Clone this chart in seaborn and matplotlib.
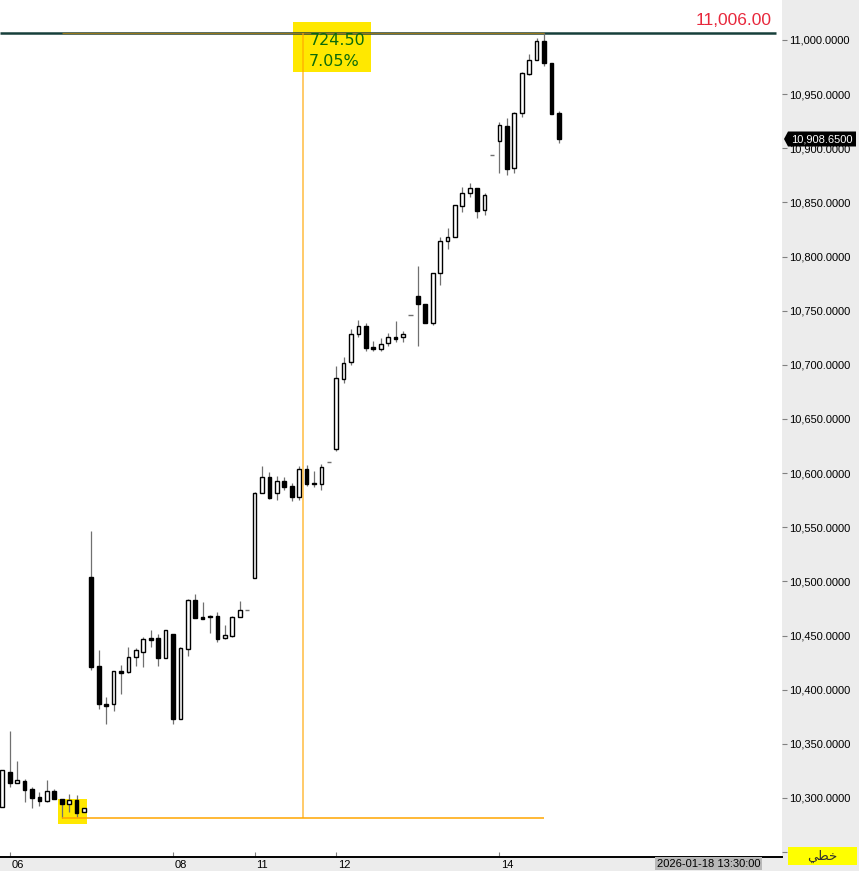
import numpy as np
import matplotlib
matplotlib.use("Agg")
import matplotlib.pyplot as plt
import seaborn as sns
from matplotlib.patches import Rectangle, Polygon
from matplotlib.transforms import blended_transform_factory

# --- datos OHLC (una vela por posicion) ---
opens = [10291.7, 10324.0, 10313.9, 10315.7, 10308.4, 10300.9, 10297.3, 10306.5, 10299.1, 10294.5,
         10298.2, 10287.1, 10504.1, 10421.9, 10386.8, 10386.8, 10417.3, 10416.4, 10430.2, 10434.8,
         10447.5, 10447.5, 10429.3, 10451.5, 10372.9, 10437.6, 10482.9, 10467.2, 10468.1, 10468.1,
         10447.5, 10449.6, 10467.2, 10473.6, 10503.2, 10581.7, 10596.5, 10582.0, 10592.8, 10588.1,
         10578.0, 10603.8, 10590.9, 10590.0, 10610.3, 10622.3, 10686.9, 10702.7, 10728.5, 10735.9,
         10716.5, 10714.6, 10720.2, 10725.7, 10725.7, 10746.0, 10763.6, 10756.2, 10738.7, 10784.8,
         10814.4, 10818.1, 10846.7, 10858.7, 10863.3, 10843.0, 10893.5, 10906.7, 10920.6, 10881.8,
         10932.6, 10968.6, 10981.5, 10999.1, 10978.8, 10932.6]
highs = [10325.9, 10361.9, 10334.2, 10317.6, 10310.2, 10305.6, 10316.6, 10308.4, 10299.1, 10303.7,
         10302.8, 10290.8, 10546.6, 10436.7, 10393.3, 10417.3, 10422.8, 10439.5, 10438.5, 10448.7,
         10455.2, 10451.5, 10455.2, 10451.5, 10439.5, 10483.8, 10488.4, 10481.0, 10469.0, 10471.8,
         10459.8, 10468.1, 10481.9, 10473.6, 10582.6, 10606.6, 10601.1, 10597.4, 10596.5, 10590.9,
         10606.6, 10607.5, 10602.0, 10608.4, 10610.3, 10699.0, 10707.3, 10733.1, 10741.4, 10738.7,
         10722.0, 10724.8, 10729.4, 10740.5, 10731.3, 10746.0, 10791.3, 10756.2, 10784.8, 10818.1,
         10826.4, 10847.6, 10864.3, 10867.9, 10863.3, 10858.7, 10893.5, 10924.3, 10928.0, 10933.5,
         10970.4, 10987.1, 11001.5, 11006.0, 10978.8, 10934.7]
lows = [10291.7, 10310.2, 10313.9, 10296.3, 10290.8, 10292.6, 10296.3, 10299.1, 10281.5, 10287.1,
        10282.5, 10287.1, 10418.2, 10382.2, 10368.4, 10380.4, 10396.1, 10415.4, 10421.9, 10421.0,
        10439.5, 10421.9, 10429.3, 10368.4, 10372.9, 10431.2, 10466.2, 10465.3, 10452.4, 10444.1,
        10446.8, 10448.7, 10467.2, 10473.6, 10503.2, 10581.7, 10576.1, 10575.2, 10584.4, 10574.3,
        10575.2, 10588.1, 10587.2, 10584.4, 10610.3, 10620.5, 10683.3, 10699.9, 10725.7, 10712.8,
        10712.8, 10712.8, 10717.4, 10721.1, 10721.1, 10746.0, 10717.4, 10738.7, 10736.8, 10773.8,
        10807.0, 10818.1, 10841.2, 10855.0, 10835.6, 10838.4, 10893.5, 10877.2, 10875.4, 10877.2,
        10928.9, 10967.7, 10981.5, 10976.0, 10931.7, 10904.9]
closes = [10325.9, 10313.9, 10316.6, 10307.4, 10300.0, 10297.3, 10306.5, 10299.1, 10294.5, 10298.2,
          10286.2, 10290.8, 10421.0, 10386.8, 10385.0, 10417.3, 10415.4, 10430.2, 10436.7, 10446.8,
          10445.6, 10429.3, 10455.2, 10372.9, 10438.5, 10482.9, 10466.2, 10465.3, 10467.2, 10446.8,
          10450.5, 10467.2, 10473.6, 10473.6, 10581.7, 10596.5, 10577.1, 10592.8, 10587.2, 10578.0,
          10603.8, 10590.0, 10590.0, 10605.7, 10610.3, 10687.9, 10701.7, 10728.5, 10735.9, 10715.6,
          10714.6, 10719.3, 10725.7, 10723.9, 10728.5, 10746.0, 10756.2, 10738.7, 10784.8, 10814.4,
          10818.1, 10847.6, 10858.7, 10863.3, 10842.1, 10856.9, 10893.5, 10921.5, 10880.9, 10932.6,
          10969.5, 10981.5, 10999.1, 10978.8, 10931.7, 10908.65]

day_ticks = [1, 23, 34, 45, 67]
day_labels = ["06", "08", "11", "12", "14"]
price_ticks = [10250, 10300, 10350, 10400, 10450, 10500, 10550, 10600, 10650,
               10700, 10750, 10800, 10850, 10900, 10950, 11000]

# herramienta de medicion
measure_from, measure_to = 8, 73
measure_low, measure_high = 10281.5, 11006.0
measure_change = "724.50"
measure_pct = "7.05%"
last_price = 10908.65
cursor_idx = 89
cursor_label = "2026-01-18 13:30:00"
scale_label = "\ufef2\ufec4\ufea7"  # خطي (formas de presentacion)

W, H = 859, 871
sns.set_theme(style="white")
plt.rcParams['font.family'] = ['Liberation Sans', 'DejaVu Sans']

fig = plt.figure(figsize=(W / 100, H / 100), dpi=100, facecolor='#ececec')
ax = fig.add_axes([0, 14 / H, 782 / W, 857 / H])
ax.set_facecolor('white')

def fx(px):
    return px / W

def fy(py):
    return 1 - py / H

x = np.arange(len(opens))
o = np.array(opens); h = np.array(highs); l = np.array(lows); c = np.array(closes)
doji = h == l
up = (c >= o) & ~doji
down = (c < o) & ~doji

# zonas amarillas
ax.add_patch(Rectangle((39.2, 10970.4), 10.5, 46.2, facecolor='#ffe800', edgecolor='none', zorder=1))
ax.add_patch(Rectangle((7.5, 10276.0), 3.9, 23.1, facecolor='#ffe800', edgecolor='none', zorder=1))

# linea de maximo
ax.hlines(measure_high, -0.31, 104.3, color='#173f3a', lw=1.8, zorder=2)

# mechas
ax.vlines(x[~doji], l[~doji], h[~doji], color='#707070', lw=0.9, zorder=3)
# velas
ax.bar(x[up], c[up] - o[up], bottom=o[up], width=0.5, color='white', edgecolor='black', lw=1.0, zorder=4)
ax.bar(x[down], o[down] - c[down], bottom=c[down], width=0.5, color='black', edgecolor='black', lw=1.0, zorder=4)
ax.hlines(c[doji], x[doji] - 0.3, x[doji] + 0.3, color='#707070', lw=1.0, zorder=4)

# medicion
ax.hlines([measure_low], measure_from, measure_to, color='#ffa500', lw=1.1, zorder=5)
ax.hlines([measure_high], measure_from, measure_to, color='#ffa500', lw=0.9, alpha=0.55, zorder=5)
mid = (measure_from + measure_to) / 2
ax.vlines(mid, measure_low, measure_high, color='#ffa500', lw=1.1, alpha=0.75, zorder=5)
ax.text(45.2, 10999.3, measure_change, ha='center', va='center', fontsize=11.5,
        family='DejaVu Sans', color='#0b6b0b', zorder=6)
ax.text(44.7, 10980.3, measure_pct, ha='center', va='center', fontsize=11.5,
        family='DejaVu Sans', color='#0b6b0b', zorder=6)

ax.set_xlim(-0.31, 105.08)
ax.set_ylim(10245.5, 11036.9)

# eje de precios a la derecha
ax.yaxis.tick_right()
ax.set_yticks(price_ticks)
ax.set_yticklabels(['' if p == 10250 else f'{p:,.4f}' for p in price_ticks])
ax.tick_params(axis='y', direction='out', length=3.6, width=0.8, color='#808080',
               pad=1.4, labelsize=8, labelcolor='black', right=True, left=False)

# eje de fechas
ax.set_xticks(day_ticks)
ax.set_xticklabels([])
ax.tick_params(axis='x', direction='in', length=3.6, width=0.8, color='#808080', bottom=True)
trans = blended_transform_factory(ax.transData, ax.transAxes)
for t, lab in zip(day_ticks, day_labels):
    ax.text(t + 0.25, -0.003, lab, transform=trans, ha='left', va='top', fontsize=8, color='black')

sns.despine(ax=ax, left=True, right=True, top=True, bottom=False)
ax.spines['bottom'].set_color('black')
ax.spines['bottom'].set_linewidth(1.4)
ax.grid(False)

# textos de figura
fig.text(fx(772), fy(20.5), "11,006.00", ha='right', va='center', fontsize=12.5, color='#e8283c')

tag = Polygon([(fx(784), fy(139)), (fx(788), fy(131.5)), (fx(856), fy(131.5)),
               (fx(856), fy(146.5)), (fx(788), fy(146.5))], closed=True,
              transform=fig.transFigure, facecolor='black', edgecolor='none', zorder=5)
fig.add_artist(tag)
fig.text(fx(822), fy(139), f'{last_price:,.4f}', ha='center', va='center', fontsize=8,
         color='white', zorder=6)

cx = 2.3 + 7.42 * cursor_idx
fig.text(fx(cx - 6), fy(863.5), cursor_label, ha='left', va='center', fontsize=8, color='black',
         bbox=dict(boxstyle='square,pad=0.12', facecolor='#b8b8b8', edgecolor='none'), zorder=6)

fig.add_artist(Rectangle((fx(788), fy(865)), fx(69), 18 / H, transform=fig.transFigure,
                         facecolor='#ffff00', edgecolor='none', zorder=5))
fig.text(fx(822), fy(856), scale_label, ha='center', va='center', fontsize=9.5,
         family='DejaVu Sans', color='#303030', zorder=6)

fig.savefig('out.png', dpi=100, facecolor=fig.get_facecolor())
